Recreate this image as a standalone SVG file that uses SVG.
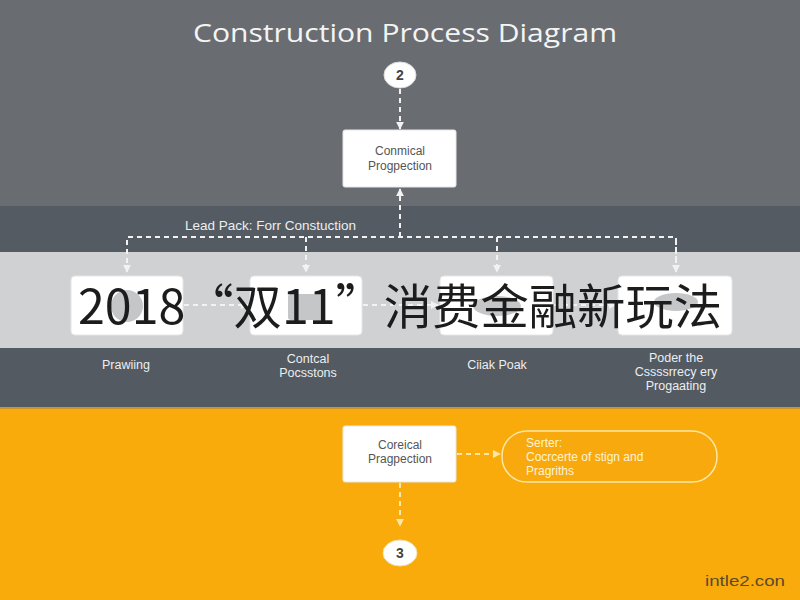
<svg xmlns="http://www.w3.org/2000/svg" width="800" height="600" viewBox="0 0 800 600">
<defs>
<style>
.sans{font-family:"Open Sans","Liberation Sans",sans-serif}
.box{fill:#ffffff;stroke:#e6e6e6;stroke-width:1}
.boxtxt{font-family:"Liberation Sans",Arial,sans-serif;font-size:12px;fill:#555;text-anchor:middle}
.lbl{font-family:"Liberation Sans",Arial,sans-serif;font-size:12.5px;fill:#eceef0;text-anchor:middle}
.dash{fill:none;stroke:#f2f2f2;stroke-width:2;stroke-dasharray:5 4}
.dashy{fill:none;stroke:#fde7a8;stroke-width:2;stroke-dasharray:5 4}
</style>
<marker id="aw" viewBox="0 0 10 10" refX="9" refY="5" markerWidth="4" markerHeight="4" orient="auto">
<path d="M0,0 L10,5 L0,10 z" fill="#f2f2f2"/>
</marker>
<marker id="ay" viewBox="0 0 10 10" refX="9" refY="5" markerWidth="4" markerHeight="4" orient="auto">
<path d="M0,0 L10,5 L0,10 z" fill="#fde7a8"/>
</marker>
</defs>

<!-- background bands -->
<rect x="0" y="0" width="800" height="206" fill="#696c71"/>
<rect x="0" y="206" width="800" height="46" fill="#545b63"/>
<rect x="0" y="252" width="800" height="96" fill="#cfd1d3"/>
<rect x="0" y="348" width="800" height="60" fill="#535a61"/>
<rect x="0" y="408" width="800" height="192" fill="#f9ab0c"/>
<rect x="0" y="407" width="800" height="2" fill="#c9962a"/>

<text x="405" y="42" class="sans" font-size="26" fill="#f4f4f4" text-anchor="middle" textLength="424" lengthAdjust="spacingAndGlyphs">Construction Process Diagram</text>

<g id="connectors">
<line x1="400" y1="89" x2="400" y2="129" class="dash" marker-end="url(#aw)"/>
<line x1="400" y1="237" x2="400" y2="189" class="dash" marker-end="url(#aw)"/>
<polyline points="127,272 127,237 676,237 676,272" class="dash"/>
<line x1="127" y1="240" x2="127" y2="272" class="dash" marker-end="url(#aw)"/>
<line x1="306" y1="237" x2="306" y2="272" class="dash" marker-end="url(#aw)"/>
<line x1="497" y1="237" x2="497" y2="272" class="dash" marker-end="url(#aw)"/>
<line x1="676" y1="240" x2="676" y2="272" class="dash" marker-end="url(#aw)"/>
<line x1="184" y1="305" x2="248" y2="305" class="dash" marker-end="url(#aw)"/>
<line x1="363" y1="305" x2="438" y2="305" class="dash" marker-end="url(#aw)"/>
<line x1="554" y1="305" x2="616" y2="305" class="dash" marker-end="url(#aw)"/>
<line x1="400" y1="483" x2="400" y2="526" class="dashy" marker-end="url(#ay)"/>
<line x1="457" y1="454" x2="500" y2="454" class="dashy" marker-end="url(#ay)"/>
</g>
<text x="185" y="230" font-family="Liberation Sans,Arial,sans-serif" font-size="13.5" fill="#eceef0">Lead Pack: Forr Constuction</text>

<g id="n2">
<ellipse cx="400" cy="75" rx="16" ry="13" fill="#ffffff" stroke="#dddddd"/>
<text x="400" y="80" font-family="Liberation Sans,Arial,sans-serif" font-size="14" font-weight="bold" fill="#444" text-anchor="middle">2</text>
</g>

<g id="top-box">
<rect x="343" y="130" width="113" height="57" rx="2" class="box"/>
<text x="400" y="155" class="boxtxt">Conmical</text>
<text x="400" y="170" class="boxtxt">Progpection</text>
</g>

<g id="b1">
<rect x="71" y="276" width="112" height="59" rx="4" class="box"/>
<circle cx="127" cy="306" r="16" fill="#c4c6c8"/>
</g>
<g id="b2">
<rect x="250" y="276" width="112" height="59" rx="4" class="box"/>
<rect x="288" y="294" width="36" height="26" rx="3" fill="#c4c6c8"/>
</g>
<g id="b3">
<rect x="440" y="276" width="113" height="59" rx="4" class="box"/>
<ellipse cx="497" cy="306" rx="24" ry="10" fill="#c4c6c8"/>
</g>
<g id="b4">
<rect x="618" y="276" width="114" height="59" rx="4" class="box"/>
<ellipse cx="676" cy="302" rx="22" ry="9" fill="#c4c6c8"/>
</g>

<text x="400" y="324" font-family="Noto Sans CJK SC,sans-serif" font-size="48" fill="#1c1c1c" text-anchor="middle" textLength="644" lengthAdjust="spacingAndGlyphs">2018“双11”消费金融新玩法</text>

<g id="l1"><text x="126" y="369" class="lbl">Prawiing</text></g>
<g id="l2"><text x="308" y="363" class="lbl">Contcal</text><text x="308" y="377" class="lbl">Pocsstons</text></g>
<g id="l3"><text x="497" y="369" class="lbl">Ciiak Poak</text></g>
<g id="l4"><text x="676" y="362" class="lbl">Poder the</text><text x="676" y="376" class="lbl">Cssssrrecy ery</text><text x="676" y="390" class="lbl">Progaating</text></g>

<g id="bottom-box">
<rect x="343" y="426" width="113" height="56" rx="2" class="box"/>
<text x="400" y="449" class="boxtxt">Coreical</text>
<text x="400" y="463" class="boxtxt">Pragpection</text>
</g>

<g id="pill">
<rect x="502" y="431" width="215" height="51" rx="25" fill="#f7a90e" stroke="#fde7a8" stroke-width="1.5"/>
<text x="526" y="447" font-family="Liberation Sans,Arial,sans-serif" font-size="12" fill="#fff3d6">Serter:</text>
<text x="526" y="461" font-family="Liberation Sans,Arial,sans-serif" font-size="12" fill="#fff3d6">Cocrcerte of stign and</text>
<text x="526" y="475" font-family="Liberation Sans,Arial,sans-serif" font-size="12" fill="#fff3d6">Pragriths</text>
</g>

<g id="n3">
<ellipse cx="400" cy="553" rx="17" ry="13" fill="#ffffff" stroke="#f3e0b0"/>
<text x="400" y="558" font-family="Liberation Sans,Arial,sans-serif" font-size="14" font-weight="bold" fill="#444" text-anchor="middle">3</text>
</g>

<text x="705" y="586" font-family="Liberation Sans,Arial,sans-serif" font-size="15" fill="#5a4a2c" textLength="80" lengthAdjust="spacingAndGlyphs">intle2.con</text>
</svg>
